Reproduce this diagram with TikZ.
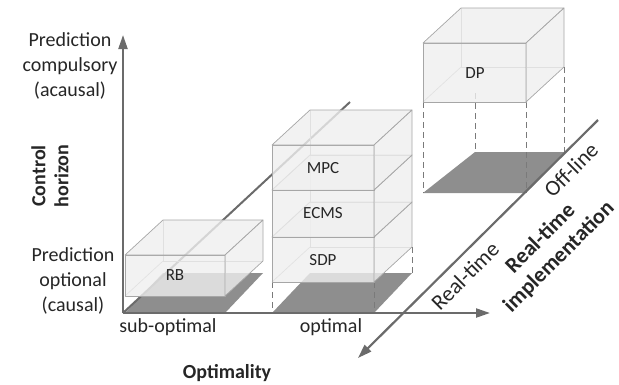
\documentclass[tikz,border=0pt]{standalone}
\usepackage{fontspec}
\setmainfont{Carlito}
\usetikzlibrary{arrows.meta}
\definecolor{axgray}{HTML}{6B6B6B}
\definecolor{edgegray}{HTML}{A6A6A6}
\definecolor{boxfill}{HTML}{EFEFEF}
\definecolor{shadowgray}{HTML}{8E8E8E}
\definecolor{dashgray}{HTML}{7A7A7A}

\begin{document}
\begin{tikzpicture}[
  x={(1pt,0pt)}, y={(0pt,-1pt)},
  >={Triangle[length=14pt,width=9pt]},
  axis/.style={draw=axgray, line width=2.2pt},
  face/.style={draw=edgegray, fill=boxfill, fill opacity=0.8, line width=0.7pt, line join=round},
  hidden/.style={draw=edgegray, line width=0.6pt},
  shadow/.style={fill=shadowgray},
  drop/.style={draw=dashgray, dash pattern=on 6pt off 4pt, line width=0.8pt},
  lbl/.style={font=\fontsize{20}{25}\selectfont, text=black!85, align=center, inner sep=0pt},
  bold/.style={lbl, font=\fontsize{20}{23}\selectfont\bfseries},
  slant/.style={lbl, rotate=45, font=\fontsize{22}{26}\selectfont},
  boxlbl/.style={font=\fontsize{17}{20}\selectfont, text=black!85, inner sep=0pt},
]

\useasboundingbox (0,0) rectangle (619,384);

\def\dx{38} \def\dy{35}   % box depth
\def\sy{40}               % floor depth of the shadows

% x-left, y-top, width, height
\newcommand{\cuboid}[4]{
  \draw[hidden] (#1+\dx,#2-\dy) -- (#1+\dx,#2+#4-\dy) -- (#1+#3+\dx,#2+#4-\dy);
  \draw[hidden] (#1,#2+#4) -- (#1+\dx,#2+#4-\dy);
  \filldraw[face] (#1,#2) rectangle (#1+#3,#2+#4);
  \filldraw[face] (#1,#2) -- (#1+\dx,#2-\dy) -- (#1+#3+\dx,#2-\dy) -- (#1+#3,#2) -- cycle;
  \filldraw[face] (#1+#3,#2) -- (#1+#3+\dx,#2-\dy) -- (#1+#3+\dx,#2+#4-\dy) -- (#1+#3,#2+#4) -- cycle;
}
% x-left, floor y, width
\newcommand{\shadowat}[3]{
  \fill[shadow] (#1,#2) -- (#1+#3,#2) -- (#1+#3+\dx,#2-\sy) -- (#1+\dx,#2-\sy) -- cycle;
}

% ---- axis ends ----
\coordinate (O) at (123,313);
\coordinate (ytip) at (123,35);
\coordinate (xtip) at (490,313);
\coordinate (dfar) at (350,102);
\coordinate (zfar) at (598,120);
\coordinate (ztip) at (358,358);

% ---- floor shadows ----
\shadowat{125}{313}{100}
\shadowat{272}{313}{102}
\fill[shadow] (423,193) -- (526,193) -- (565,152) -- (475,152) -- cycle;

% ---- depth axis ----
\draw[axis, line width=2pt] (O) -- (dfar);

% ---- drop lines ----
\draw[drop] (272,282) -- (272,313);
\draw[drop] (374,282) -- (374,313);
\draw[drop] (412,247) -- (412,273);
\draw[drop] (423,102) -- (423,193);
\draw[drop] (526,102) -- (526,193);
\draw[drop] (475,93) -- (475,152);
\draw[drop] (564,67) -- (564,152);

% ---- boxes ----
\cuboid{125}{255}{100}{41}
\cuboid{272}{237}{102}{45}
\cuboid{272}{190}{102}{47}
\cuboid{272}{145}{102}{45}
\cuboid{423}{43}{103}{59}

\node[boxlbl] (rb) at (175,275) {RB};
\node[boxlbl] (sdp) at (323,260) {SDP};
\node[boxlbl] (ecms) at (323,213) {ECMS};
\node[boxlbl] (mpc) at (323,168) {MPC};
\node[boxlbl] (dp) at (475,73) {DP};

% ---- axes ----
\draw[axis,->] (O) -- (ytip);
\draw[axis,->] (O) -- (xtip);
\draw[axis,->] (zfar) -- (ztip);

% ---- labels ----
\node[lbl] (pc) at (70,66) {Prediction\\compulsory\\(acausal)};
\node[lbl] (po) at (73,281) {Prediction\\optional\\(causal)};
\node[bold, rotate=90] (ch) at (50,176) {Control\\horizon};
\node[lbl] (so) at (168,327) {sub-optimal};
\node[lbl] (op) at (331,327) {optimal};
\node[bold] (opt) at (227,373) {Optimality};
\node[slant] (rt) at (465,276) {Real-time};
\node[slant] (ol) at (571,170) {Off-line};
\node[slant, font=\fontsize{22}{26}\selectfont\bfseries] (rti) at (550,248) {Real-time\\implementation};

\end{tikzpicture}
\end{document}
